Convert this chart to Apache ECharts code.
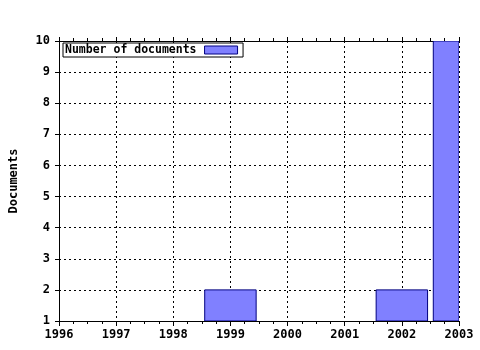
<!DOCTYPE html>
<html><head><meta charset="utf-8">
<script src="https://cdn.jsdelivr.net/npm/echarts@6/dist/echarts.min.js"></script>
<style>html,body{margin:0;padding:0;background:#fff}#c{width:480px;height:350px}</style>
</head><body><div id="c"></div>
<script>
var years = [1999, 2002, 2003];
var documents = [2, 2, 10];
var seriesName = 'Number of documents';
var yAxisName = 'Documents';
var xMin = 1996, xMax = 2003;
var yMin = 1, yMax = 10;
var barHalf = 0.45;

var FONT = 'DejaVu Sans Mono';
var chart = echarts.init(document.getElementById('c'), null, {renderer: 'canvas'});
var data = years.map(function (y, i) { return [y, documents[i]]; });

chart.setOption({
  animation: false,
  backgroundColor: '#fff',
  grid: {left: 57, right: 21, top: 41, bottom: 29, containLabel: false},
  legend: {
    left: 63, top: 43,
    orient: 'horizontal',
    align: 'right',
    padding: [1, 5, 1, 2],
    borderColor: '#000', borderWidth: 1, borderRadius: 0,
    backgroundColor: '#fff',
    itemWidth: 33, itemHeight: 8,
    itemGap: 8,
    data: [{name: seriesName, icon: 'rect', itemStyle: {color: '#8080ff', borderColor: '#000080', borderWidth: 1}}],
    textStyle: {fontFamily: FONT, fontWeight: 'bold', fontSize: 11.5, color: '#000', padding: [0, 3, 0, 0]},
    selectedMode: false
  },
  xAxis: [{
    type: 'value', position: 'bottom', min: xMin, max: xMax, interval: 1,
    axisLine: {show: true, lineStyle: {color: '#000', width: 1}},
    axisTick: {show: true, inside: false, length: 5, lineStyle: {color: '#000'}},
    minorTick: {show: true, splitNumber: 4, length: 3, lineStyle: {color: '#000'}},
    axisLabel: {color: '#000', fontFamily: FONT, fontWeight: 'bold', fontSize: 12, margin: 8,
      formatter: function (v) { return String(v); }},
    splitLine: {show: true, lineStyle: {color: '#000', type: [2, 3], width: 1}}
  }, {
    type: 'value', position: 'top', min: xMin, max: xMax, interval: 1,
    axisLine: {show: true, lineStyle: {color: '#000', width: 1}},
    axisTick: {show: true, inside: false, length: 4, lineStyle: {color: '#000'}},
    minorTick: {show: true, splitNumber: 4, length: 3, lineStyle: {color: '#000'}},
    axisLabel: {show: false},
    splitLine: {show: false}
  }],
  yAxis: {
    type: 'value', min: yMin, max: yMax, interval: 1,
    name: yAxisName, nameLocation: 'middle', nameGap: 39,
    nameTextStyle: {color: '#000', fontFamily: FONT, fontWeight: 'bold', fontSize: 12},
    axisLine: {show: true, lineStyle: {color: '#000', width: 1}},
    axisTick: {show: true, inside: false, length: 4, lineStyle: {color: '#000'}},
    axisLabel: {color: '#000', fontFamily: FONT, fontWeight: 'bold', fontSize: 12, margin: 9},
    splitLine: {show: true, lineStyle: {color: '#000', type: [2, 3], width: 1}}
  },
  series: [{
    name: seriesName,
    type: 'custom',
    xAxisIndex: 0,
    clip: true,
    data: data,
    itemStyle: {color: '#8080ff', borderColor: '#000080', borderWidth: 1},
    renderItem: function (params, api) {
      var x = api.value(0), v = api.value(1);
      var p1 = api.coord([x - barHalf, v]);
      var p2 = api.coord([x + barHalf, yMin]);
      var rect = echarts.graphic.clipRectByRect({
        x: p1[0], y: p1[1], width: p2[0] - p1[0], height: p2[1] - p1[1]
      }, {
        x: params.coordSys.x, y: params.coordSys.y,
        width: params.coordSys.width, height: params.coordSys.height
      });
      return rect && {
        type: 'rect', shape: rect,
        style: {fill: '#8080ff', stroke: '#000080', lineWidth: 1}
      };
    }
  }]
});
</script></body></html>
